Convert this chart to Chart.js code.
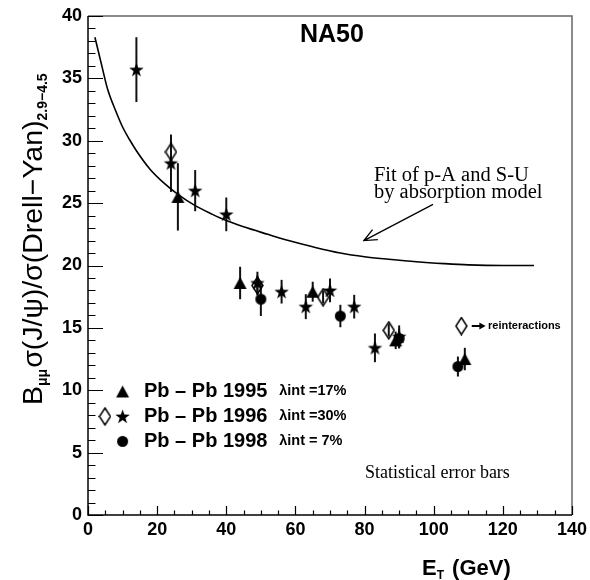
<!DOCTYPE html>
<html>
<head>
<meta charset="utf-8">
<script src="https://cdn.jsdelivr.net/npm/chart.js@4.4.0/dist/chart.umd.min.js"></script>
<style>
  html, body { margin: 0; padding: 0; background: #fff; }
  #grafic { display: block; }
</style>
</head>
<body>
<canvas id="grafic" width="590" height="580"></canvas>
<script>
// Pb-Pb 1995 (triangles)
const pb95X   = [26, 44, 65, 89, 109];
const pb95Y   = [25.5, 18.6, 17.9, 14.0, 12.5];
const pb95Err = [2.7, 1.3, 0.8, 0.7, 0.9];

// Pb-Pb 1996 (stars)
const pb96X   = [14, 24, 31, 40, 49, 56, 63, 70, 77, 83, 90];
const pb96Y   = [35.7, 28.2, 26.0, 24.1, 18.6, 17.9, 16.7, 18.0, 16.7, 13.4, 14.3];
const pb96Err = [2.6, 2.3, 1.65, 1.35, 0.9, 0.95, 1.0, 0.95, 0.95, 1.15, 0.9];

// Pb-Pb 1996 with reinteractions (open diamonds)
const pb96rX   = [24, 49, 68, 87];
const pb96rY   = [29.1, 18.4, 17.45, 14.8];
const pb96rErr = [1.2, 0.8, 0.5, 0.5];

// Pb-Pb 1998 (circles)
const pb98X   = [50, 73, 90, 107];
const pb98Y   = [17.3, 15.95, 14.15, 11.9];
const pb98Err = [1.35, 0.9, 0.8, 0.8];

// absorption model fit (p-A and S-U)
const fitX = [2, 4, 5.7, 8, 10, 12, 14, 18, 22, 26, 31, 36, 40, 45, 52, 58, 65, 73, 80, 87, 95, 103, 110, 120, 129];
const fitY = [38.3, 36.0, 34.1, 32.4, 31.1, 30.1, 29.2, 27.7, 26.6, 25.7, 24.8, 24.1, 23.6, 23.1, 22.5, 22.0, 21.5, 21.0, 20.7, 20.5, 20.3, 20.15, 20.05, 20.0, 20.0];

// reinteractions key marker
const reintX = [108];
const reintY = [15.15];

const xTicks = [0, 20, 40, 60, 80, 100, 120, 140];
const yTicks = [0, 5, 10, 15, 20, 25, 30, 35, 40];

const punts = (xs, ys) => xs.map((x, i) => ({ x: x, y: ys[i] }));

// marcadors dibuixats a ma (estil ROOT)
function marcador(tipus) {
    const c = document.createElement('canvas');
    if (tipus === 'triangle') { c.width = 15; c.height = 14; }
    if (tipus === 'estrella') { c.width = 17; c.height = 17; }
    if (tipus === 'cercle')   { c.width = 13; c.height = 13; }
    if (tipus === 'diamant')  { c.width = 13; c.height = 19; }
    const ctx = c.getContext('2d');
    ctx.fillStyle = '#000';
    ctx.strokeStyle = '#000';
    ctx.beginPath();
    if (tipus === 'triangle') {
        ctx.moveTo(7.5, 1); ctx.lineTo(14, 13); ctx.lineTo(1, 13); ctx.closePath(); ctx.fill();
    } else if (tipus === 'estrella') {
        for (let k = 0; k < 10; k++) {
            const r = k % 2 === 0 ? 7.6 : 3.0;
            const a = -Math.PI / 2 + k * Math.PI / 5;
            const px = 8.5 + r * Math.cos(a), py = 9 + r * Math.sin(a);
            if (k === 0) ctx.moveTo(px, py); else ctx.lineTo(px, py);
        }
        ctx.closePath(); ctx.fill();
    } else if (tipus === 'cercle') {
        ctx.arc(6.5, 6.5, 5.5, 0, Math.PI * 2); ctx.fill();
    } else {
        ctx.lineWidth = 1.5;
        ctx.moveTo(6.5, 1); ctx.lineTo(12, 9.5); ctx.lineTo(6.5, 18); ctx.lineTo(1, 9.5); ctx.closePath(); ctx.stroke();
    }
    return c;
}

const imgTri = marcador('triangle');
const imgEst = marcador('estrella');
const imgCer = marcador('cercle');
const imgDia = marcador('diamant');

// barres d'error verticals
const barresError = {
    id: 'barresError',
    beforeDatasetsDraw(chart) {
        const { ctx, scales: { x, y } } = chart;
        ctx.save();
        ctx.strokeStyle = '#111';
        ctx.lineWidth = 2;
        chart.data.datasets.forEach(ds => {
            if (!ds.errors) return;
            ds.data.forEach((p, i) => {
                const px = x.getPixelForValue(p.x);
                ctx.beginPath();
                ctx.moveTo(px, y.getPixelForValue(p.y - ds.errors[i]));
                ctx.lineTo(px, y.getPixelForValue(p.y + ds.errors[i]));
                ctx.stroke();
            });
        });
        ctx.restore();
    }
};

// marc, ticks interiors, textos i llegenda
const decoracio = {
    id: 'decoracio',
    afterDraw(chart) {
        const { ctx, chartArea: a, scales: { x, y } } = chart;
        ctx.save();

        // marc
        ctx.lineWidth = 1.5;
        ctx.strokeStyle = '#666';
        ctx.beginPath();
        ctx.moveTo(a.left, a.top); ctx.lineTo(a.right, a.top); ctx.lineTo(a.right, a.bottom);
        ctx.stroke();
        ctx.strokeStyle = '#000';
        ctx.beginPath();
        ctx.moveTo(a.left, a.top); ctx.lineTo(a.left, a.bottom); ctx.lineTo(a.right, a.bottom);
        ctx.stroke();

        // ticks cap a dins
        ctx.lineWidth = 1.2;
        ctx.beginPath();
        for (let v = 0; v <= 40; v++) {
            const py = Math.round(y.getPixelForValue(v)) + 0.5;
            const len = v % 5 === 0 ? 15 : 7.5;
            ctx.moveTo(a.left, py); ctx.lineTo(a.left + len, py);
        }
        for (let v = 0; v <= 140; v += 5) {
            const px = Math.round(x.getPixelForValue(v)) + 0.5;
            const len = v % 20 === 0 ? 9 : 4.5;
            ctx.moveTo(px, a.bottom); ctx.lineTo(px, a.bottom - len);
        }
        ctx.stroke();

        const X = v => x.getPixelForValue(v);
        const Y = v => y.getPixelForValue(v);

        ctx.fillStyle = '#000';
        ctx.textBaseline = 'alphabetic';
        ctx.textAlign = 'left';

        ctx.font = 'bold 25px "Liberation Sans", Arial, sans-serif';
        ctx.fillText('NA50', X(61.3), Y(37.9));

        ctx.font = '20.5px "Liberation Serif", "Times New Roman", serif';
        ctx.fillText('Fit of p-A and S-U', X(82.7), Y(26.75));
        ctx.fillText('by absorption model', X(82.7), Y(25.4));

        // fletxa cap a la corba
        const x0 = X(99.8), y0 = Y(24.9), x1 = X(79.8), y1 = Y(22.0);
        const ang = Math.atan2(y0 - y1, x0 - x1);
        ctx.lineWidth = 1.3;
        ctx.beginPath();
        ctx.moveTo(x0, y0); ctx.lineTo(x1, y1);
        ctx.moveTo(x1 + 14 * Math.cos(ang - 0.42), y1 + 14 * Math.sin(ang - 0.42));
        ctx.lineTo(x1, y1);
        ctx.lineTo(x1 + 14 * Math.cos(ang + 0.42), y1 + 14 * Math.sin(ang + 0.42));
        ctx.stroke();

        ctx.font = '18px "Liberation Serif", "Times New Roman", serif';
        ctx.fillText('Statistical error bars', X(80.1), Y(2.97));

        // reinteraccions
        const ry = Y(reintY[0]);
        ctx.lineWidth = 2;
        ctx.beginPath();
        ctx.moveTo(X(111), ry); ctx.lineTo(X(113.6), ry);
        ctx.stroke();
        ctx.beginPath();
        ctx.moveTo(X(115), ry); ctx.lineTo(X(113.2), ry - 3.5); ctx.lineTo(X(113.2), ry + 3.5); ctx.closePath();
        ctx.fill();
        ctx.font = 'bold 11px "Liberation Sans", Arial, sans-serif';
        ctx.textBaseline = 'middle';
        ctx.fillText('reinteractions', X(115.7), ry);

        // llegenda
        const files = [
            { y: 9.9, imgs: [[imgTri, 10]], txt: 'Pb \u2013 Pb 1995', lam: '\u03bbint =17%' },
            { y: 7.9, imgs: [[imgDia, 4.9], [imgEst, 10]], txt: 'Pb \u2013 Pb 1996', lam: '\u03bbint =30%' },
            { y: 5.9, imgs: [[imgCer, 10]], txt: 'Pb \u2013 Pb 1998', lam: '\u03bbint = 7%' }
        ];
        files.forEach(f => {
            const py = Y(f.y);
            f.imgs.forEach(([img, vx]) => ctx.drawImage(img, X(vx) - img.width / 2, py - img.height / 2));
            ctx.font = 'bold 20px "Liberation Sans", Arial, sans-serif';
            ctx.fillText(f.txt, X(16.2), py);
            ctx.font = 'bold 14.5px "Liberation Sans", Arial, sans-serif';
            ctx.fillText(f.lam, X(55.3), py);
        });

        // titol eix X
        ctx.textBaseline = 'alphabetic';
        ctx.font = 'bold 22px "Liberation Sans", Arial, sans-serif';
        let tx = 422;
        ctx.fillText('E', tx, 575); tx += ctx.measureText('E').width;
        ctx.font = 'bold 12px "Liberation Sans", Arial, sans-serif';
        ctx.fillText('T', tx, 579); tx += ctx.measureText('T').width + 2;
        ctx.font = 'bold 22px "Liberation Sans", Arial, sans-serif';
        ctx.fillText(' (GeV)', tx, 575);

        // titol eix Y (girat)
        ctx.translate(42, 405);
        ctx.rotate(-Math.PI / 2);
        const trossos = [
            ['B', 0], ['\u03bc\u03bc', 1], ['\u03c3(J/\u03c8)/\u03c3(Drell\u2212Yan)', 0], ['2.9\u22124.5', 1]
        ];
        let cx = 0;
        trossos.forEach(([t, sub]) => {
            ctx.font = sub ? 'bold 14px "Liberation Sans", Arial, sans-serif' : '28.5px "Liberation Sans", Arial, sans-serif';
            ctx.fillText(t, cx, sub ? 5 : 0);
            cx += ctx.measureText(t).width + (sub ? 1 : 0);
        });

        ctx.restore();
    }
};

const tickFont = { family: '"Liberation Sans", Arial, sans-serif', size: 18, weight: 'bold' };

new Chart(document.getElementById('grafic'), {
    type: 'scatter',
    data: {
        datasets: [
            {
                label: 'Fit',
                data: punts(fitX, fitY),
                showLine: true,
                borderColor: '#000',
                borderWidth: 1.6,
                pointRadius: 0,
                cubicInterpolationMode: 'monotone',
                fill: false
            },
            { label: 'Pb-Pb 1995', data: punts(pb95X, pb95Y), errors: pb95Err, pointStyle: imgTri },
            { label: 'Pb-Pb 1996', data: punts(pb96X, pb96Y), errors: pb96Err, pointStyle: imgEst },
            { label: 'Pb-Pb 1996 reint.', data: punts(pb96rX, pb96rY), errors: pb96rErr, pointStyle: imgDia },
            { label: 'Pb-Pb 1998', data: punts(pb98X, pb98Y), errors: pb98Err, pointStyle: imgCer },
            { label: 'reinteractions', data: punts(reintX, reintY), pointStyle: imgDia }
        ]
    },
    options: {
        responsive: false,
        animation: false,
        layout: { padding: { left: 0, top: 16, right: 18, bottom: 0 } },
        plugins: { legend: { display: false }, tooltip: { enabled: false } },
        scales: {
            x: {
                type: 'linear', min: 0, max: 140,
                afterBuildTicks: s => { s.ticks = xTicks.map(v => ({ value: v })); },
                afterFit: s => { s.height = 65; s.paddingLeft = 0; s.paddingRight = 0; },
                grid: { display: false, drawTicks: false },
                border: { display: false },
                ticks: { color: '#000', font: tickFont, padding: 4, maxRotation: 0 }
            },
            y: {
                type: 'linear', min: 0, max: 40,
                afterBuildTicks: s => { s.ticks = yTicks.map(v => ({ value: v })); },
                afterFit: s => { s.width = 88; s.paddingTop = 0; s.paddingBottom = 0; },
                grid: { display: false, drawTicks: false },
                border: { display: false },
                ticks: { color: '#000', font: tickFont, padding: 6 }
            }
        }
    },
    plugins: [barresError, decoracio]
});
</script>
</body>
</html>
